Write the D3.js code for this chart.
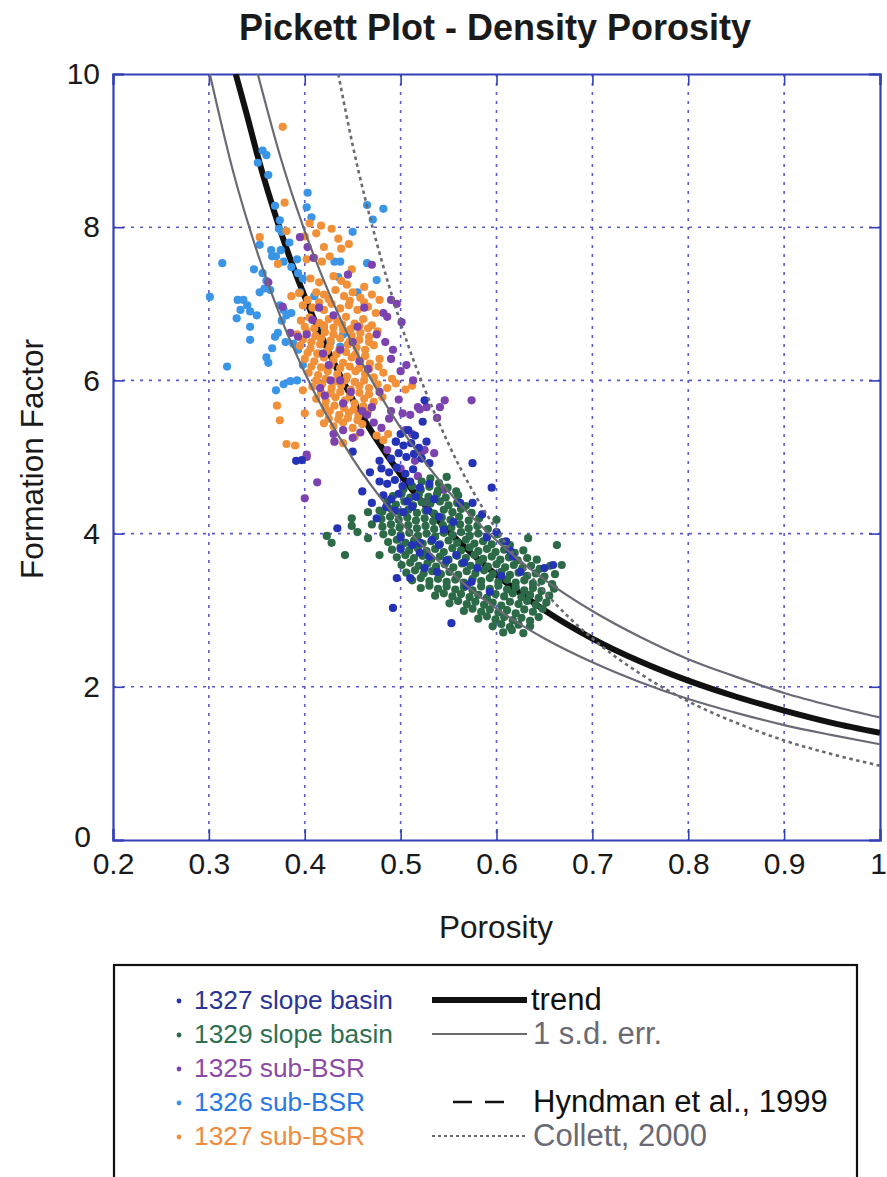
<!DOCTYPE html>
<html><head><meta charset="utf-8">
<script src="https://cdn.jsdelivr.net/npm/d3@7"></script>
<style>body{margin:0;background:#fff}svg{display:block}text{font-family:"Liberation Sans",Arial,sans-serif}</style>
</head><body><svg id="c" width="887" height="1177"></svg>
<script>
// ---------- DATA ----------
const xTicks = [0.2,0.3,0.4,0.5,0.6,0.7,0.8,0.9,1];
const yTicks = [0,2,4,6,8,10];

const trendLine = [[0.328,10.0],[0.34,9.45],[0.35,8.97],[0.375,7.94],[0.40,7.09],[0.425,6.37],[0.45,5.75],[0.50,4.77],[0.55,4.03],[0.60,3.46],[0.65,3.00],[0.70,2.63],[0.75,2.33],[0.80,2.08],[0.85,1.87],[0.90,1.69],[0.95,1.53],[1.00,1.40]];
const upperSd = [[0.351,10.0],[0.375,8.90],[0.40,7.95],[0.425,7.15],[0.45,6.47],[0.50,5.38],[0.55,4.55],[0.60,3.91],[0.65,3.40],[0.70,2.99],[0.75,2.65],[0.80,2.36],[0.85,2.13],[0.90,1.92],[0.95,1.75],[1.00,1.60]];
const lowerSd = [[0.301,10.0],[0.325,8.74],[0.35,7.69],[0.375,6.82],[0.40,6.10],[0.45,4.98],[0.50,4.15],[0.55,3.52],[0.60,3.02],[0.65,2.63],[0.70,2.32],[0.75,2.06],[0.80,1.84],[0.85,1.66],[0.90,1.50],[0.95,1.37],[1.00,1.25]];
const collett2000 = [[0.435,10.0],[0.45,9.07],[0.475,7.80],[0.50,6.75],[0.55,5.17],[0.60,4.05],[0.65,3.24],[0.70,2.63],[0.75,2.17],[0.80,1.81],[0.85,1.53],[0.90,1.30],[0.95,1.12],[1.00,0.97]];

const sub1326 = [[0.356,9.00],[0.360,8.94],[0.351,8.84],[0.362,8.68],[0.403,8.45],[0.402,8.26],[0.407,8.13],[0.465,8.29],[0.482,8.24],[0.471,8.10],[0.374,8.09],[0.376,7.94],[0.450,7.94],[0.314,7.53],[0.353,7.77],[0.370,7.62],[0.378,7.55],[0.386,7.48],[0.392,7.58],[0.431,7.55],[0.437,7.55],[0.465,7.53],[0.475,7.31],[0.356,7.40],[0.360,7.30],[0.393,7.40],[0.398,7.33],[0.301,7.09],[0.330,7.05],[0.336,7.05],[0.340,6.98],[0.343,6.90],[0.353,7.15],[0.358,7.20],[0.364,7.18],[0.374,6.98],[0.378,6.92],[0.381,6.85],[0.329,6.81],[0.343,6.70],[0.369,6.57],[0.343,6.53],[0.319,6.18],[0.362,6.23],[0.360,6.30],[0.385,5.99],[0.378,5.95],[0.392,6.00],[0.370,5.87],[0.393,6.40],[0.388,6.48],[0.435,7.35],[0.437,6.44],[0.372,6.62],[0.380,6.50],[0.376,6.78],[0.386,6.88],[0.410,7.10],[0.420,6.70],[0.427,6.50],[0.440,6.60],[0.455,7.15],[0.347,7.45],[0.365,7.70],[0.384,7.80],[0.395,7.15],[0.350,6.85],[0.333,6.92],[0.366,6.42],[0.398,6.20],[0.414,6.35],[0.369,8.28],[0.373,7.98],[0.375,7.70],[0.366,7.62]];

const sub1327 = [[0.405,8.05],[0.417,8.02],[0.428,7.98],[0.381,7.95],[0.400,7.88],[0.412,7.92],[0.435,7.85],[0.420,7.74],[0.438,7.72],[0.446,7.78],[0.402,7.58],[0.410,7.60],[0.418,7.55],[0.426,7.62],[0.372,7.52],[0.449,7.45],[0.406,7.33],[0.415,7.28],[0.430,7.36],[0.438,7.30],[0.444,7.25],[0.462,7.22],[0.412,7.15],[0.420,7.12],[0.432,7.18],[0.441,7.10],[0.450,7.15],[0.458,7.08],[0.470,7.12],[0.478,7.05],[0.398,6.98],[0.408,6.95],[0.420,6.92],[0.428,7.00],[0.437,6.94],[0.446,6.98],[0.455,6.92],[0.466,6.96],[0.474,6.88],[0.396,6.78],[0.405,6.82],[0.415,6.75],[0.425,6.80],[0.434,6.77],[0.443,6.83],[0.452,6.74],[0.461,6.80],[0.470,6.72],[0.392,6.60],[0.402,6.64],[0.411,6.58],[0.421,6.63],[0.430,6.60],[0.440,6.66],[0.449,6.58],[0.458,6.62],[0.467,6.57],[0.476,6.64],[0.395,6.45],[0.406,6.42],[0.416,6.47],[0.426,6.44],[0.436,6.40],[0.445,6.47],[0.454,6.43],[0.463,6.40],[0.472,6.46],[0.400,6.28],[0.410,6.25],[0.420,6.30],[0.430,6.27],[0.440,6.23],[0.449,6.30],[0.458,6.26],[0.468,6.22],[0.478,6.28],[0.404,6.10],[0.414,6.07],[0.424,6.12],[0.434,6.08],[0.444,6.05],[0.453,6.12],[0.463,6.08],[0.472,6.04],[0.482,6.10],[0.491,6.02],[0.408,5.92],[0.418,5.95],[0.428,5.90],[0.438,5.94],[0.448,5.88],[0.457,5.93],[0.467,5.90],[0.476,5.95],[0.486,5.90],[0.495,5.96],[0.398,5.87],[0.512,5.93],[0.505,5.88],[0.412,5.76],[0.422,5.73],[0.432,5.78],[0.442,5.74],[0.452,5.70],[0.462,5.76],[0.472,5.72],[0.481,5.78],[0.400,5.57],[0.416,5.57],[0.426,5.60],[0.436,5.55],[0.446,5.58],[0.456,5.54],[0.466,5.60],[0.420,5.44],[0.430,5.40],[0.440,5.45],[0.450,5.38],[0.460,5.43],[0.431,5.20],[0.440,5.18],[0.452,5.26],[0.475,5.28],[0.482,5.22],[0.487,5.30],[0.377,9.31],[0.379,8.32],[0.353,7.87],[0.371,5.67],[0.374,5.48],[0.381,5.17],[0.390,5.15],[0.386,7.10],[0.394,7.14],
[0.403,7.05],[0.415,7.02],[0.425,7.06],[0.447,7.04],[0.462,7.02],[0.400,6.70],[0.410,6.68],[0.420,6.72],[0.430,6.69],[0.439,6.73],[0.448,6.67],[0.457,6.71],[0.466,6.68],[0.398,6.53],[0.407,6.50],[0.417,6.55],[0.427,6.52],[0.437,6.55],[0.447,6.51],[0.457,6.53],[0.467,6.50],[0.403,6.36],[0.413,6.35],[0.423,6.38],[0.433,6.34],[0.443,6.37],[0.453,6.34],[0.463,6.32],[0.407,6.18],[0.417,6.17],[0.427,6.20],[0.437,6.16],[0.447,6.18],[0.457,6.16],[0.467,6.15],[0.477,6.18],[0.412,6.00],[0.422,6.02],[0.432,5.99],[0.442,6.00],[0.452,5.98],[0.462,6.00],[0.417,5.84],[0.427,5.83],[0.437,5.85],[0.447,5.80],[0.457,5.84],[0.467,5.82],[0.421,5.66],[0.431,5.67],[0.441,5.64],[0.451,5.62],[0.461,5.66],[0.425,5.50],[0.435,5.49],[0.445,5.51],[0.455,5.48]];

const sub1325 = [[0.395,7.87],[0.403,7.74],[0.409,7.60],[0.445,7.38],[0.470,7.51],[0.362,7.28],[0.490,7.05],[0.496,7.00],[0.482,6.88],[0.501,6.76],[0.486,6.83],[0.492,6.40],[0.475,6.60],[0.484,6.50],[0.490,6.28],[0.506,6.20],[0.513,6.00],[0.500,6.12],[0.546,5.74],[0.574,5.74],[0.538,5.51],[0.541,5.65],[0.502,5.57],[0.525,5.09],[0.486,5.09],[0.518,5.65],[0.413,4.67],[0.400,4.46],[0.402,5.00],[0.525,4.41],[0.431,5.20],[0.465,5.55],[0.472,5.45],[0.480,5.38],[0.488,5.50],[0.377,6.96],[0.385,6.62],[0.393,6.57],[0.402,6.60],[0.408,6.79],[0.457,6.25],[0.416,5.90],[0.421,5.80],[0.427,6.00],[0.440,5.70],[0.448,5.85],[0.460,5.60],[0.470,5.65],[0.490,5.60],[0.520,5.62],[0.527,5.65],[0.510,5.55],[0.430,5.30],[0.440,5.35],[0.450,5.25],[0.458,5.32],[0.402,5.03],[0.415,6.95],[0.430,6.85],[0.455,6.70],[0.462,6.95],[0.450,6.50],[0.425,6.20],[0.437,6.00],[0.466,6.15],[0.478,5.85],[0.498,5.75],[0.505,5.35],[0.495,5.20],[0.512,5.30],[0.535,5.05],[0.515,4.95],[0.500,4.85],[0.437,6.40],[0.419,6.35],[0.522,5.07],[0.518,4.75],[0.545,4.57]];

const slope1329 = [[0.522,4.68],[0.531,4.72],[0.540,4.66],[0.548,4.74],
[0.503,4.58],[0.512,4.62],[0.521,4.57],[0.530,4.61],[0.539,4.56],[0.549,4.60],[0.558,4.55],
[0.492,4.49],[0.501,4.52],[0.510,4.47],[0.519,4.51],[0.529,4.48],[0.538,4.52],[0.547,4.47],[0.560,4.50],
[0.486,4.41],[0.495,4.38],[0.504,4.42],[0.513,4.37],[0.522,4.41],[0.531,4.39],[0.541,4.42],[0.550,4.37],[0.559,4.40],[0.568,4.36],
[0.481,4.29],[0.490,4.32],[0.499,4.28],[0.508,4.31],[0.517,4.27],[0.526,4.30],[0.535,4.26],[0.545,4.31],[0.554,4.28],[0.563,4.32],[0.574,4.27],
[0.480,4.19],[0.489,4.22],[0.498,4.18],[0.507,4.21],[0.516,4.17],[0.525,4.20],[0.534,4.16],[0.543,4.21],[0.552,4.18],[0.561,4.22],[0.571,4.17],[0.582,4.20],
[0.481,4.09],[0.490,4.12],[0.499,4.08],[0.508,4.11],[0.517,4.07],[0.526,4.10],[0.535,4.06],[0.544,4.11],[0.553,4.08],[0.562,4.12],[0.571,4.07],[0.580,4.10],[0.591,4.06],
[0.482,3.99],[0.491,4.02],[0.500,3.98],[0.509,4.01],[0.518,3.97],[0.527,4.00],[0.536,3.96],[0.545,4.01],[0.554,3.98],[0.563,4.02],[0.572,3.97],[0.581,4.00],[0.590,3.96],[0.601,3.99],
[0.487,3.89],[0.496,3.92],[0.505,3.88],[0.514,3.91],[0.523,3.87],[0.532,3.90],[0.541,3.86],[0.550,3.91],[0.559,3.88],[0.568,3.92],[0.577,3.87],[0.586,3.90],[0.595,3.86],[0.606,3.89],[0.614,3.85],
[0.491,3.79],[0.500,3.82],[0.509,3.78],[0.518,3.81],[0.527,3.77],[0.536,3.80],[0.545,3.76],[0.554,3.81],[0.563,3.78],[0.572,3.82],[0.581,3.77],[0.590,3.80],[0.599,3.76],[0.608,3.79],[0.619,3.75],[0.628,3.78],
[0.496,3.69],[0.505,3.72],[0.514,3.68],[0.523,3.71],[0.532,3.67],[0.541,3.70],[0.550,3.66],[0.559,3.71],[0.568,3.68],[0.577,3.72],[0.586,3.67],[0.595,3.70],[0.604,3.66],[0.613,3.69],[0.622,3.65],[0.632,3.68],[0.642,3.66],
[0.501,3.59],[0.510,3.62],[0.519,3.58],[0.528,3.61],[0.537,3.57],[0.546,3.60],[0.555,3.56],[0.564,3.61],[0.573,3.58],[0.582,3.62],[0.591,3.57],[0.600,3.60],[0.609,3.56],[0.618,3.59],[0.627,3.55],[0.636,3.58],[0.645,3.54],[0.656,3.58],
[0.506,3.49],[0.515,3.52],[0.524,3.48],[0.533,3.51],[0.542,3.47],[0.551,3.50],[0.560,3.46],[0.569,3.51],[0.578,3.48],[0.587,3.52],[0.596,3.47],[0.605,3.50],[0.614,3.46],[0.623,3.49],[0.632,3.45],[0.641,3.48],[0.650,3.44],[0.661,3.47],
[0.512,3.39],[0.521,3.42],[0.530,3.38],[0.539,3.41],[0.548,3.37],[0.557,3.40],[0.566,3.36],[0.575,3.41],[0.584,3.38],[0.593,3.42],[0.602,3.37],[0.611,3.40],[0.620,3.36],[0.629,3.39],[0.638,3.35],[0.647,3.38],[0.658,3.34],
[0.521,3.29],[0.530,3.32],[0.539,3.28],[0.548,3.31],[0.557,3.27],[0.566,3.30],[0.575,3.26],[0.584,3.31],[0.593,3.28],[0.602,3.32],[0.611,3.27],[0.620,3.30],[0.629,3.26],[0.638,3.29],[0.647,3.25],[0.660,3.28],
[0.536,3.19],[0.545,3.22],[0.554,3.18],[0.563,3.21],[0.572,3.17],[0.581,3.20],[0.590,3.16],[0.599,3.21],[0.608,3.18],[0.617,3.22],[0.626,3.17],[0.635,3.20],[0.644,3.16],[0.655,3.19],
[0.551,3.09],[0.560,3.12],[0.569,3.08],[0.578,3.11],[0.587,3.07],[0.596,3.10],[0.605,3.06],[0.614,3.11],[0.623,3.08],[0.632,3.12],[0.641,3.07],[0.652,3.10],
[0.566,2.99],[0.575,3.02],[0.584,2.98],[0.593,3.01],[0.602,2.97],[0.611,3.00],[0.620,2.96],[0.629,3.01],[0.638,2.98],[0.648,3.02],
[0.581,2.89],[0.590,2.92],[0.599,2.88],[0.608,2.91],[0.617,2.87],[0.626,2.90],[0.635,2.86],[0.644,2.91],
[0.596,2.79],[0.605,2.82],[0.614,2.78],[0.623,2.81],[0.635,2.79],
[0.607,2.71],[0.616,2.74],[0.628,2.70],
[0.423,3.97],[0.428,3.88],[0.442,3.72],[0.449,4.10],[0.449,4.20],[0.466,3.94],[0.478,3.72],[0.466,4.28],[0.478,4.30],[0.633,3.94],[0.663,3.85],[0.668,3.59],[0.600,4.18],[0.455,4.02],[0.470,4.12]];

const slope1327 = [[0.525,5.74],[0.523,5.46],[0.575,4.92],[0.595,4.60],[0.450,5.07],[0.397,4.96],[0.391,4.95],[0.434,4.07],[0.492,3.03],[0.553,2.83],
[0.500,5.30],[0.508,5.35],[0.515,5.28],[0.495,5.20],[0.503,5.15],[0.511,5.18],[0.519,5.12],[0.527,5.20],[0.498,5.05],[0.506,5.00],[0.514,5.04],[0.522,4.98],[0.490,4.98],[0.530,4.92],
[0.480,4.85],[0.488,4.80],[0.496,4.86],[0.505,4.78],[0.513,4.84],[0.478,4.68],[0.486,4.65],[0.494,4.70],[0.502,4.62],[0.510,4.68],[0.520,4.60],[0.482,4.50],[0.490,4.45],[0.498,4.52],[0.507,4.42],[0.516,4.48],[0.485,4.35],[0.494,4.30],[0.503,4.28],[0.512,4.35],[0.528,4.30],[0.535,4.45],[0.540,4.22],
[0.500,3.95],[0.512,3.85],[0.520,3.75],[0.530,3.70],[0.540,3.85],[0.548,3.65],[0.558,3.72],[0.566,3.62],[0.562,4.40],[0.575,4.40],[0.600,4.02],[0.610,3.90],[0.614,3.78],[0.617,3.70],[0.659,3.59],[0.650,3.55],[0.574,3.37],[0.569,3.32],[0.593,3.24],[0.496,3.42],[0.510,3.42],[0.500,3.80],[0.520,3.88],[0.533,3.92],[0.545,4.05],[0.555,4.15],[0.585,4.25],[0.590,3.95],[0.625,3.50],[0.605,3.45],[0.580,3.55],[0.538,3.50],[0.525,3.55],[0.470,4.40],[0.475,4.20],[0.460,4.55],[0.478,4.95],[0.468,4.80],[0.530,4.65]];

const seriesNames = ["1327 slope basin","1329 slope basin","1325 sub-BSR","1326 sub-BSR","1327 sub-BSR"];
const seriesColors = ["#2433b5","#2c6a48","#7b42b0","#3a95e6","#f0913a"];
const legendTextColors = ["#2b3596","#2f7052","#8c4aa6","#2b78e4","#ef8b3c"];
const lineNames = ["trend","1 s.d. err.","","Hyndman et al., 1999","Collett, 2000"];

// ---------- CHART ----------
const svg = d3.select("#c");
const L=113,R=880,T=74,B=840;
const x = d3.scaleLinear().domain([0.2,1]).range([L,R]);
const y = d3.scaleLinear().domain([0,10]).range([B,T]);
const blue="#3440b8", grid="#5a5ad0";
const font='"Liberation Sans",Arial,sans-serif';

svg.append("text").attr("x",495).attr("y",40).attr("text-anchor","middle")
  .attr("font-size",36).attr("font-weight","bold").attr("fill","#1a1a1a").text("Pickett Plot - Density Porosity");

svg.append("clipPath").attr("id","pc").append("rect").attr("x",L).attr("y",T).attr("width",R-L).attr("height",B-T);

// grid
const g = svg.append("g");
g.selectAll(".vg").data(xTicks.slice(1,-1)).enter().append("line")
 .attr("x1",d=>x(d)).attr("x2",d=>x(d)).attr("y1",T).attr("y2",B)
 .attr("stroke",grid).attr("stroke-width",1.6).attr("stroke-dasharray","3,6");
g.selectAll(".hg").data(yTicks.slice(1,-1)).enter().append("line")
 .attr("y1",d=>y(d)).attr("y2",d=>y(d)).attr("x1",L).attr("x2",R)
 .attr("stroke",grid).attr("stroke-width",1.6).attr("stroke-dasharray","3,6");

// axes with inside ticks
const ax = svg.append("g").attr("font-family",font);
const xb = ax.append("g").attr("transform",`translate(0,${B})`).call(d3.axisBottom(x).tickValues(xTicks).tickSize(-11).tickPadding(13).tickFormat(d=>d===1?"1":d3.format(".1f")(d)));
ax.append("g").attr("transform",`translate(0,${T})`).call(d3.axisTop(x).tickValues(xTicks).tickSize(-11).tickFormat(""));
const yl = ax.append("g").attr("transform",`translate(${L},0)`).call(d3.axisLeft(y).tickValues(yTicks).tickSize(-11).tickPadding(13).tickFormat(d3.format("d")));
ax.append("g").attr("transform",`translate(${R},0)`).call(d3.axisRight(y).tickValues(yTicks).tickSize(-11).tickFormat(""));
ax.selectAll(".domain").attr("stroke",blue).attr("stroke-width",2.2);
ax.selectAll(".tick line").attr("stroke",blue).attr("stroke-width",1.6);
ax.selectAll(".tick text").attr("font-size",30).attr("fill","#1a1a1a");
xb.selectAll(".tick text").filter(d=>d===1).attr("dx",-2);
yl.selectAll(".tick text").filter(d=>d===0).attr("dx",-9).attr("dy","0.2em");

svg.append("text").attr("x",496).attr("y",938).attr("text-anchor","middle").attr("font-size",31.5).attr("fill","#1a1a1a").text("Porosity");
svg.append("text").attr("transform","translate(43,459) rotate(-90)").attr("text-anchor","middle").attr("font-size",31.5).attr("fill","#1a1a1a").text("Formation Factor");

const line = d3.line().x(d=>x(d[0])).y(d=>y(d[1])).curve(d3.curveMonotoneX);
const plot = svg.append("g").attr("clip-path","url(#pc)");

plot.append("path").datum(trendLine).attr("d",line).attr("fill","none").attr("stroke","#111").attr("stroke-width",6);

const sets = [[sub1326,3],[sub1327,4],[sub1325,2],[slope1329,1],[slope1327,0]];
sets.forEach(([arr,i])=>{
  plot.append("g").selectAll("circle").data(arr).enter().append("circle")
    .attr("cx",d=>x(d[0])).attr("cy",d=>y(d[1])).attr("r",4.1).attr("fill",seriesColors[i]);
});

plot.append("path").datum(upperSd).attr("d",line).attr("fill","none").attr("stroke","#6a6a74").attr("stroke-width",2.2);
plot.append("path").datum(lowerSd).attr("d",line).attr("fill","none").attr("stroke","#6a6a74").attr("stroke-width",2.2);
plot.append("path").datum(collett2000).attr("d",line).attr("fill","none").attr("stroke","#6a6a74").attr("stroke-width",2.6).attr("stroke-dasharray","3.5,3.5");

// legend
const lg = svg.append("g");
lg.append("rect").attr("x",114).attr("y",965).attr("width",743).attr("height",240).attr("fill","#fff").attr("stroke","#111").attr("stroke-width",2.2);
const rowY = [1000,1034,1068,1102,1136];
seriesNames.forEach((n,i)=>{
  lg.append("circle").attr("cx",179).attr("cy",rowY[i]+1).attr("r",2.4).attr("fill",seriesColors[i]);
  lg.append("text").attr("x",194).attr("y",rowY[i]+9).attr("font-size",26.3).attr("fill",legendTextColors[i]).text(n);
});
lg.append("line").attr("x1",432).attr("x2",527).attr("y1",rowY[0]).attr("y2",rowY[0]).attr("stroke","#111").attr("stroke-width",6);
lg.append("line").attr("x1",432).attr("x2",527).attr("y1",rowY[1]).attr("y2",rowY[1]).attr("stroke","#6a6a74").attr("stroke-width",2);
lg.append("line").attr("x1",453).attr("x2",504).attr("y1",rowY[3]).attr("y2",rowY[3]).attr("stroke","#111").attr("stroke-width",2.5).attr("stroke-dasharray","19,13");
lg.append("line").attr("x1",432).attr("x2",527).attr("y1",rowY[4]).attr("y2",rowY[4]).attr("stroke","#6a6a74").attr("stroke-width",2).attr("stroke-dasharray","3,3");
const lineTextColors = ["#111","#6a6a74","#111","#111","#6a6a74"];
lineNames.forEach((n,i)=>{ if(n) lg.append("text").attr("x",i===0?531:533).attr("y",rowY[i]+10).attr("font-size",31).attr("fill",lineTextColors[i]).text(n); });
</script></body></html>
